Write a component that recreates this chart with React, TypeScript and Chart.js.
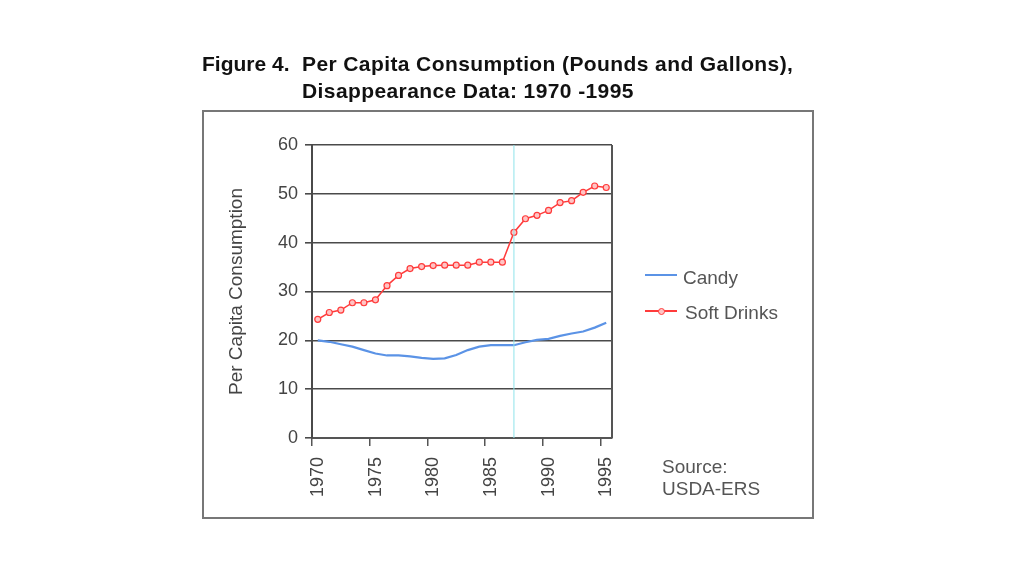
import React, { useEffect, useRef } from "react";
import { Chart, registerables } from "chart.js";

Chart.register(...registerables);

const years = [1970, 1971, 1972, 1973, 1974, 1975, 1976, 1977, 1978, 1979, 1980, 1981, 1982, 1983, 1984, 1985, 1986, 1987, 1988, 1989, 1990, 1991, 1992, 1993, 1994, 1995];
const candy = [20.0, 19.7, 19.2, 18.7, 18.0, 17.3, 16.9, 16.9, 16.7, 16.4, 16.2, 16.3, 17.0, 18.0, 18.7, 19.0, 19.0, 19.0, 19.6, 20.1, 20.3, 20.9, 21.4, 21.8, 22.6, 23.6];
const softDrinks = [24.3, 25.7, 26.2, 27.7, 27.7, 28.3, 31.2, 33.3, 34.7, 35.1, 35.3, 35.4, 35.4, 35.4, 36.0, 36.0, 36.0, 42.1, 44.9, 45.6, 46.6, 48.2, 48.6, 50.3, 51.6, 51.3];
const tickYears = [1970, 1975, 1980, 1985, 1990, 1995];
const markerYear = 1987;
const yMin = 0;
const yMax = 60;
const yStep = 10;

const FONT = "'Liberation Sans', Arial, sans-serif";

const frameRight = {
  id: "frameRight",
  afterDraw(chart: any) {
    const { ctx, chartArea } = chart;
    ctx.save();
    ctx.strokeStyle = "#555";
    ctx.lineWidth = 2;
    ctx.beginPath();
    ctx.moveTo(chartArea.right, chartArea.top);
    ctx.lineTo(chartArea.right, chartArea.bottom);
    ctx.stroke();
    ctx.restore();
  },
};

export default function App() {
  const ref = useRef<HTMLCanvasElement>(null);

  useEffect(() => {
    if (!ref.current) return;
    const base = years[0];
    const toX = (yr: number) => yr - base + 0.5;
    const chart = new Chart(ref.current, {
      type: "line",
      data: {
        datasets: [
          {
            label: "marker",
            data: [
              { x: toX(markerYear), y: yMin },
              { x: toX(markerYear), y: yMax },
            ],
            borderColor: "#8fe3ea",
            borderWidth: 1,
            pointRadius: 0,
          },
          {
            label: "Candy",
            data: years.map((yr, i) => ({ x: toX(yr), y: candy[i] })),
            borderColor: "#5b93e6",
            borderWidth: 2.2,
            pointRadius: 0,
            tension: 0,
          },
          {
            label: "Soft Drinks",
            data: years.map((yr, i) => ({ x: toX(yr), y: softDrinks[i] })),
            borderColor: "#ff3b3b",
            borderWidth: 1.5,
            pointRadius: 3,
            pointBorderWidth: 1.2,
            pointBorderColor: "#ff3b3b",
            pointBackgroundColor: "#ffc4c4",
            tension: 0,
          },
        ],
      },
      options: {
        animation: false,
        responsive: false,
        devicePixelRatio: 1,
        layout: { padding: { left: 221, top: 145, right: 412, bottom: 78 } },
        plugins: { legend: { display: false }, tooltip: { enabled: false }, title: { display: false } },
        scales: {
          x: {
            type: "linear",
            min: 0,
            max: years.length,
            afterBuildTicks: (scale: any) => {
              scale.ticks = tickYears.map((yr) => ({ value: yr - base }));
            },
            afterFit: (scale: any) => {
              scale.height = 60;
            },
            grid: { drawOnChartArea: false, drawTicks: true, tickLength: 8, color: "#555", lineWidth: 1.5 },
            border: { color: "#555", width: 2 },
            ticks: {
              autoSkip: false,
              maxRotation: 90,
              minRotation: 90,
              padding: 11,
              labelOffset: 6,
              color: "#444",
              font: { family: FONT, size: 18 },
              callback: (v: any) => String(base + Number(v)),
            },
          },
          y: {
            min: yMin,
            max: yMax,
            afterFit: (scale: any) => {
              scale.width = 91;
            },
            grid: { color: "#4a4a4a", lineWidth: 1.6, tickLength: 7 },
            border: { color: "#4a4a4a", width: 2 },
            ticks: { stepSize: yStep, padding: 7, color: "#444", font: { family: FONT, size: 18 } },
            title: { display: true, text: "Per Capita Consumption", color: "#444", font: { family: FONT, size: 19 } },
          },
        },
      },
      plugins: [frameRight],
    });
    return () => chart.destroy();
  }, []);

  const titleStyle: React.CSSProperties = {
    position: "absolute",
    fontFamily: FONT,
    fontWeight: "bold",
    fontSize: 21,
    lineHeight: "24px",
    color: "#111",
    whiteSpace: "nowrap",
  };
  const textStyle: React.CSSProperties = {
    position: "absolute",
    fontFamily: FONT,
    fontSize: 19,
    lineHeight: "20px",
    color: "#555",
    whiteSpace: "nowrap",
  };

  return (
    <div style={{ position: "fixed", left: 0, top: 0, width: 1024, height: 576, background: "#fff", overflow: "hidden" }}>
      <div style={{ position: "absolute", left: 202, top: 110, width: 608, height: 405, border: "2px solid #777" }} />
      <canvas ref={ref} width={1024} height={576} style={{ position: "absolute", left: 0, top: 0, width: 1024, height: 576 }} />
      <div style={{ ...titleStyle, left: 202, top: 52 }}>Figure 4.</div>
      <div style={{ ...titleStyle, left: 302, top: 52, letterSpacing: "0.4px" }}>Per Capita Consumption (Pounds and Gallons),</div>
      <div style={{ ...titleStyle, left: 302, top: 79, letterSpacing: "0.4px" }}>Disappearance Data: 1970 -1995</div>

      <div style={{ position: "absolute", left: 645, top: 274, width: 32, height: 2, background: "#5b93e6" }} />
      <div style={{ ...textStyle, left: 683, top: 268 }}>Candy</div>
      <div style={{ position: "absolute", left: 645, top: 310, width: 32, height: 1.5, background: "#ff3b3b" }} />
      <div style={{ position: "absolute", left: 658, top: 308, width: 5, height: 5, borderRadius: "50%", background: "#ffc4c4", border: "1.2px solid #ff3b3b" }} />
      <div style={{ ...textStyle, left: 685, top: 303 }}>Soft Drinks</div>

      <div style={{ ...textStyle, left: 662, top: 457 }}>Source:</div>
      <div style={{ ...textStyle, left: 662, top: 479 }}>USDA-ERS</div>
    </div>
  );
}
